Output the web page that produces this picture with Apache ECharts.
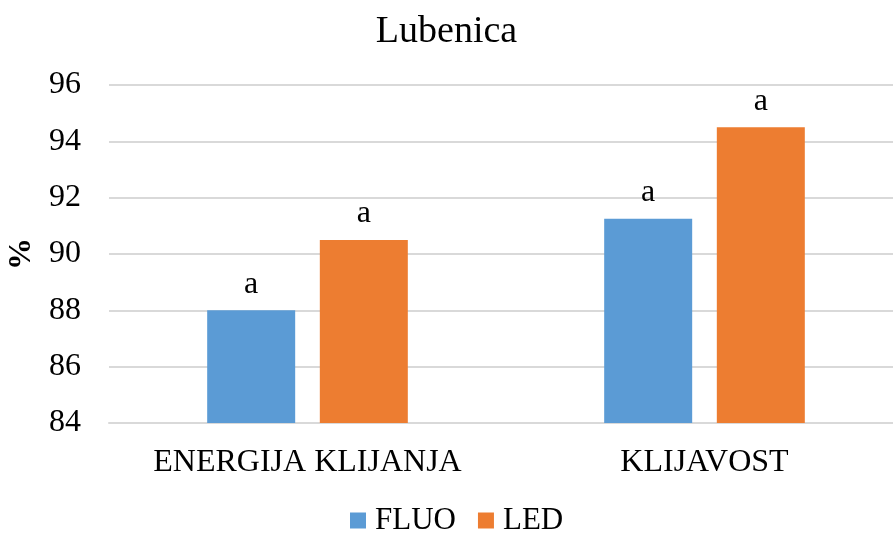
<!DOCTYPE html>
<html><head><meta charset="utf-8">
<script src="https://cdn.jsdelivr.net/npm/echarts@6/dist/echarts.min.js"></script>
<style>html,body{margin:0;padding:0;background:#fff}#c{width:893px;height:533px}</style>
</head><body><div id="c"></div>
<script>
const categories = ["ENERGIJA KLIJANJA", "KLIJAVOST"];
const fluo = [88, 91.25];
const led = [90.5, 94.5];
const fluoLabels = ["a", "a"];
const ledLabels = ["a", "a"];
const font = "Liberation Serif";
const chart = echarts.init(document.getElementById('c'));
function mkLabel(labels){
  return {show:true, position:'top', distance:10, fontFamily:font, fontSize:32, color:'#000',
    formatter: p => labels[p.dataIndex]};
}
chart.setOption({
  animation:false,
  title:{text:'Lubenica', left:'center', top:8, textStyle:{fontFamily:font, fontSize:38, fontWeight:'normal', color:'#000'}},
  legend:{top:500, left:345, itemWidth:16, itemHeight:16, itemGap:22, icon:'rect',
    textStyle:{fontFamily:font, fontSize:31, color:'#000', padding:[0,0,0,4]}, data:['FLUO','LED']},
  grid:{left:109, top:85, width:794, height:338, outerBoundsMode:'none', containLabel:false},
  xAxis:{type:'category', data:categories, axisTick:{show:false},
    axisLine:{lineStyle:{color:'#d9d9d9', width:2}},
    axisLabel:{fontFamily:font, fontSize:32, color:'#000', margin:24, interval:0, hideOverlap:false}},
  yAxis:{type:'value', min:84, max:96, interval:2, name:'%', nameLocation:'middle', nameGap:64,
    nameTextStyle:{fontFamily:font, fontSize:32, fontWeight:'bold', color:'#000'},
    axisLabel:{fontFamily:font, fontSize:32, color:'#000', margin:28},
    splitLine:{lineStyle:{color:'#d9d9d9', width:2}}, axisLine:{show:false}},
  series:[
    {name:'FLUO', type:'bar', data:fluo, barWidth:88, barGap:'28%', itemStyle:{color:'#5b9bd5'}, label:mkLabel(fluoLabels)},
    {name:'LED', type:'bar', data:led, barWidth:88, barGap:'28%', itemStyle:{color:'#ed7d31'}, label:mkLabel(ledLabels)}
  ]
});
</script></body></html>
